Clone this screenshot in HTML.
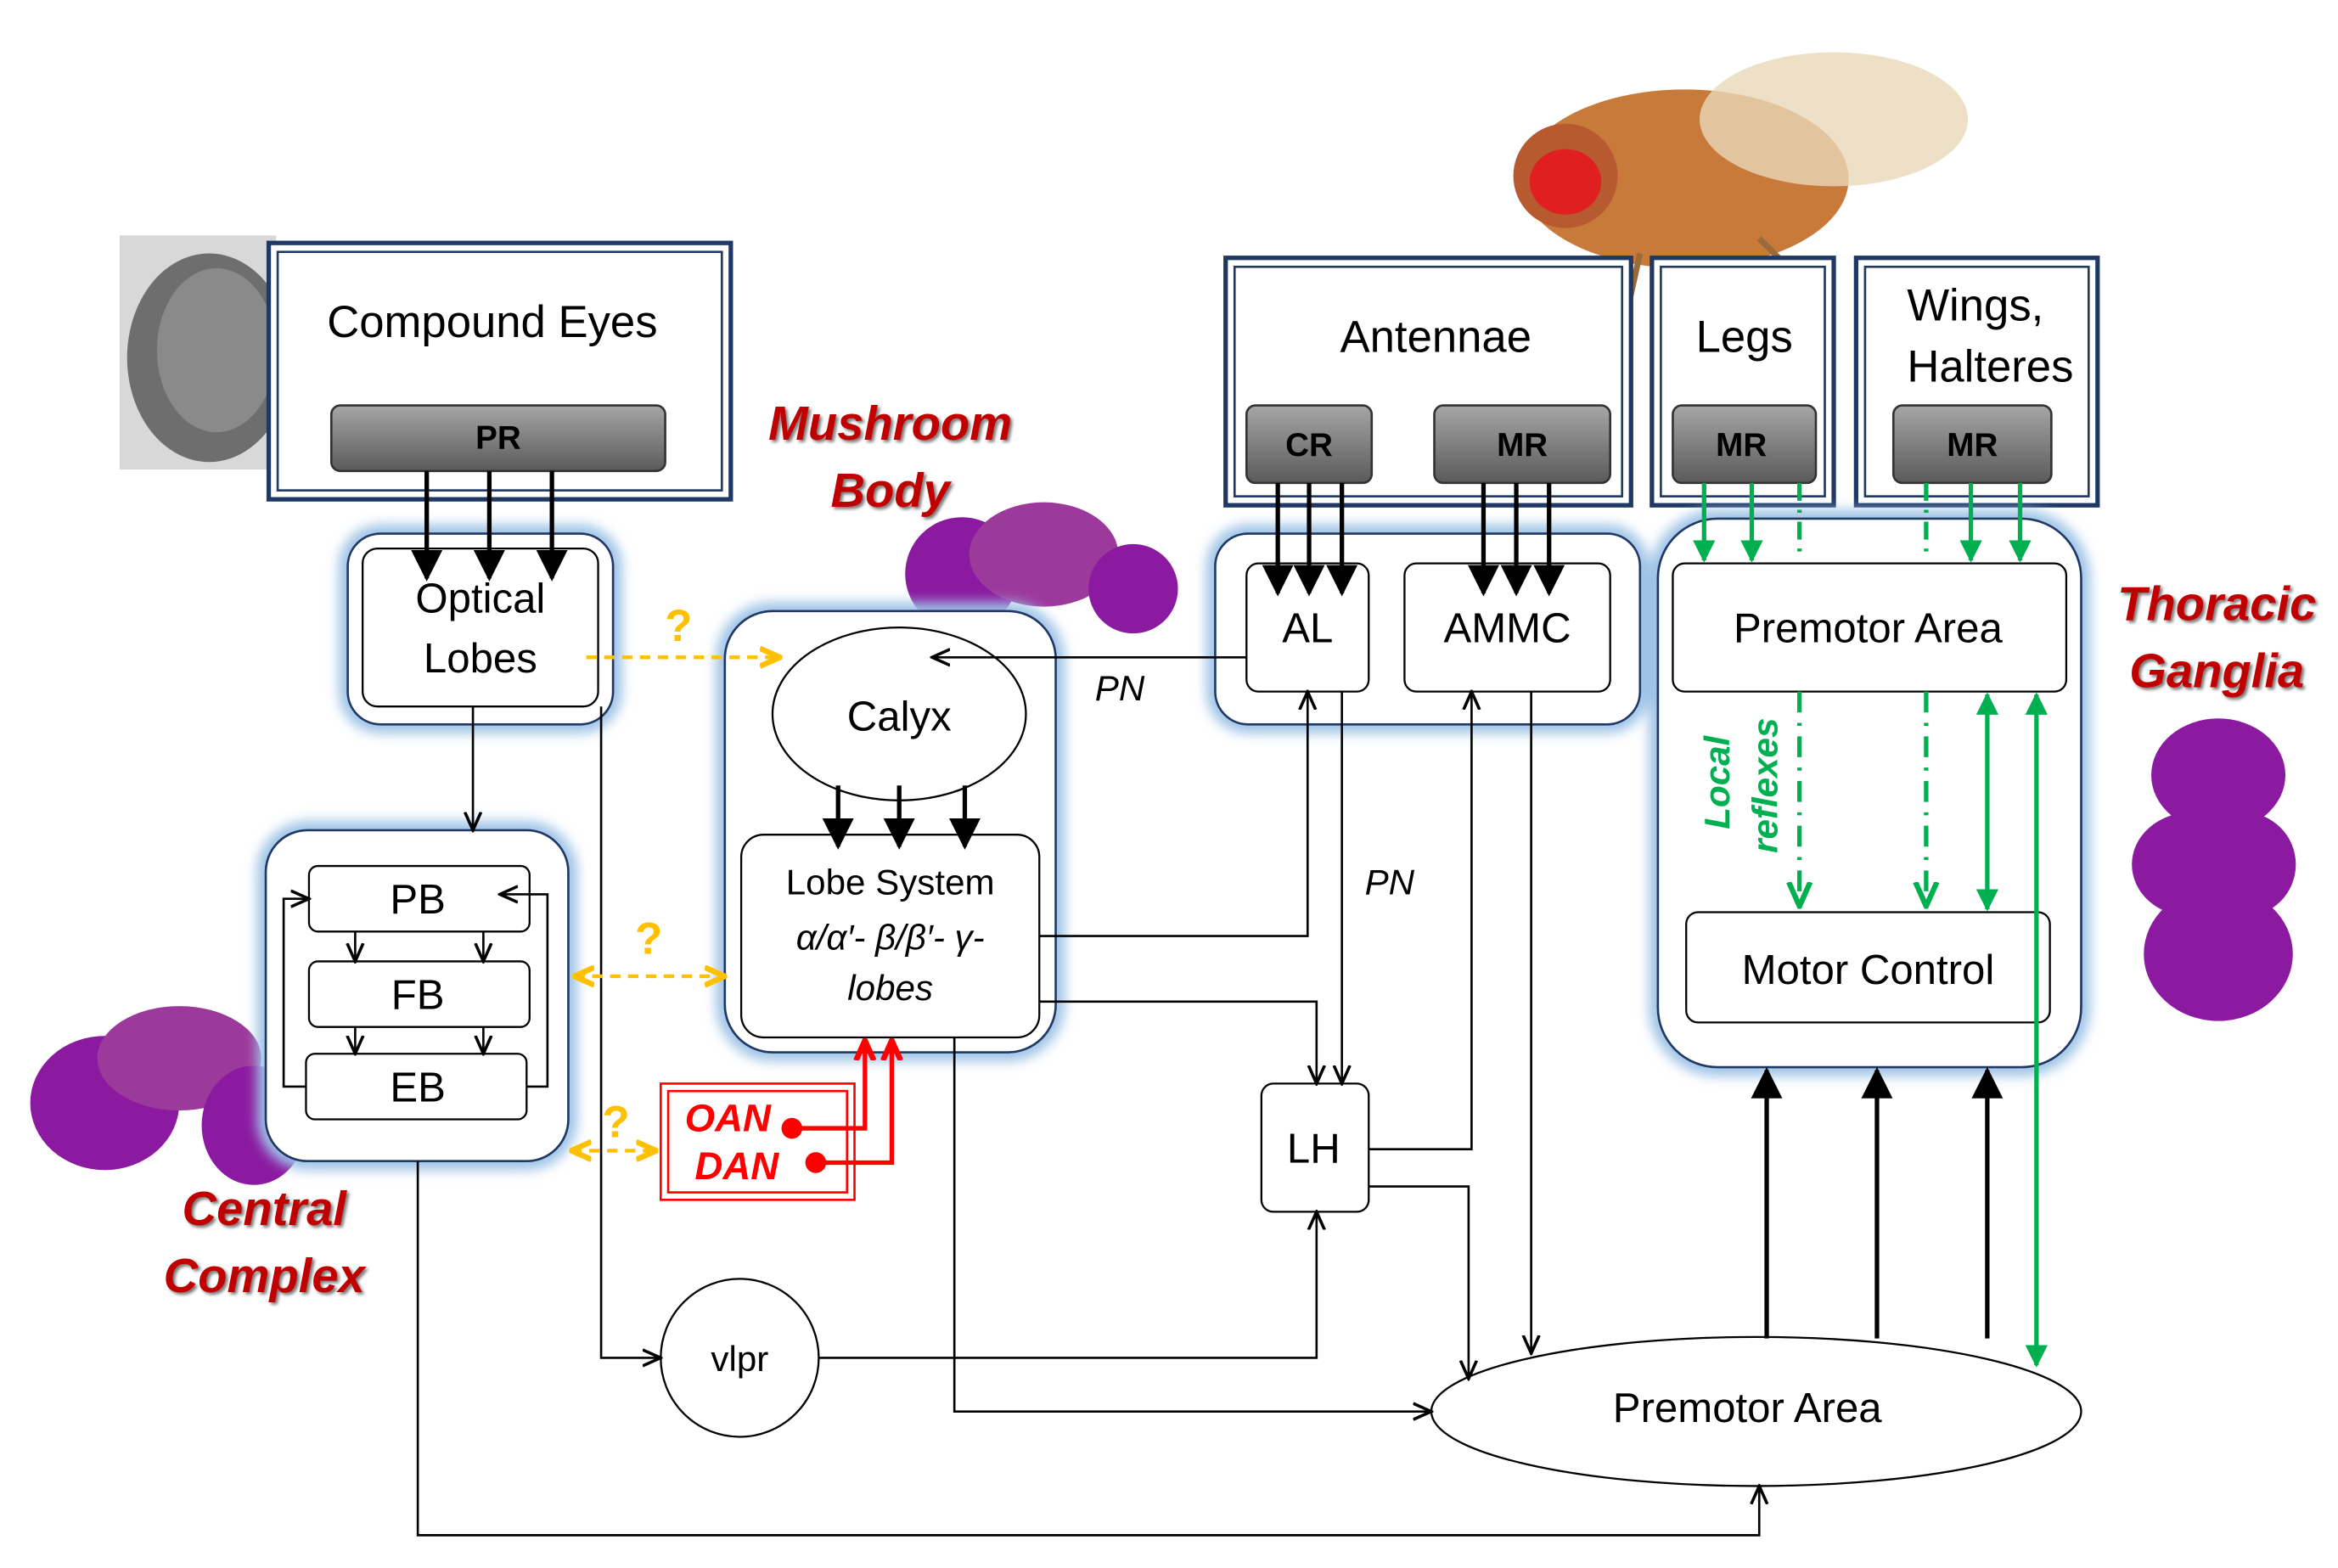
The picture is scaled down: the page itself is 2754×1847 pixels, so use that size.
<!DOCTYPE html>
<html><head><meta charset="utf-8">
<style>html,body{margin:0;padding:0;background:#fff}svg{display:block}</style>
</head><body>
<svg width="2754" height="1847" viewBox="0 0 1568 1052" xmlns="http://www.w3.org/2000/svg" font-family="Liberation Sans, sans-serif">
<defs>
<linearGradient id="gb" x1="0" y1="0" x2="0" y2="1"><stop offset="0" stop-color="#a6a6a6"/><stop offset="1" stop-color="#5a5a5a"/></linearGradient>
<filter id="bl" x="-20%" y="-20%" width="140%" height="140%"><feGaussianBlur stdDeviation="4"/></filter>
<filter id="sh"><feDropShadow dx="1.5" dy="1.5" stdDeviation="1" flood-color="#777"/></filter>
<marker id="a" viewBox="0 0 10 10" refX="9" refY="5" markerWidth="7" markerHeight="7" orient="auto-start-reverse"><path d="M0,0 L10,5 L0,10 z" fill="#000"/></marker>
<marker id="ao" viewBox="0 0 10 10" refX="9" refY="5" markerWidth="9" markerHeight="9" orient="auto-start-reverse"><path d="M0,1 L9,5 L0,9" fill="none" stroke="#000" stroke-width="1.5"/></marker>
<marker id="ag" viewBox="0 0 10 10" refX="9" refY="5" markerWidth="5" markerHeight="5" orient="auto-start-reverse"><path d="M0,0 L10,5 L0,10 z" fill="#00b050"/></marker>
<marker id="agv" viewBox="0 0 10 10" refX="9" refY="5" markerWidth="6" markerHeight="6" orient="auto-start-reverse"><path d="M0,1 L9,5 L0,9" fill="none" stroke="#00b050" stroke-width="2"/></marker>
<marker id="ay" viewBox="0 0 10 10" refX="9" refY="5" markerWidth="6" markerHeight="6" orient="auto-start-reverse"><path d="M0,1 L9,5 L0,9" fill="none" stroke="#ffc000" stroke-width="2.5"/></marker>
<marker id="ar" viewBox="0 0 10 10" refX="9" refY="5" markerWidth="5" markerHeight="5" orient="auto-start-reverse"><path d="M0,1 L9,5 L0,9" fill="none" stroke="#f00" stroke-width="2.5"/></marker>
</defs>

<!-- images approximations -->
<g>
<rect x="80" y="158" width="105" height="157" fill="#d8d8d8"/>
<ellipse cx="140" cy="240" rx="55" ry="70" fill="#6e6e6e"/>
<ellipse cx="145" cy="235" rx="40" ry="55" fill="#8a8a8a"/>
</g>
<g>
<ellipse cx="1130" cy="120" rx="110" ry="60" fill="#c87a3a"/>
<ellipse cx="1230" cy="80" rx="90" ry="45" fill="#e8d8b8" opacity="0.8"/>
<ellipse cx="1050" cy="118" rx="35" ry="35" fill="#b85a30"/>
<ellipse cx="1050" cy="122" rx="24" ry="22" fill="#e02020"/>
<path d="M1100,170 L1080,260 M1140,175 L1175,250 M1180,160 L1230,210" stroke="#9a6a3a" stroke-width="4"/>
</g>
<g fill="#8b1aa0">
<ellipse cx="645" cy="385" rx="38" ry="38"/><ellipse cx="700" cy="372" rx="50" ry="35" fill="#9c3a9c"/><ellipse cx="760" cy="395" rx="30" ry="30"/>
<ellipse cx="70" cy="740" rx="50" ry="45"/><ellipse cx="120" cy="710" rx="55" ry="35" fill="#9c3a9c"/><ellipse cx="170" cy="755" rx="35" ry="40"/>
<ellipse cx="1488" cy="520" rx="45" ry="38"/><ellipse cx="1470" cy="580" rx="40" ry="35"/><ellipse cx="1505" cy="580" rx="35" ry="35"/><ellipse cx="1488" cy="640" rx="50" ry="45"/>
</g>

<!-- double-border boxes -->
<g fill="#fff" stroke="#1f3864">
<rect x="180" y="163" width="310" height="172" stroke-width="3"/><rect x="186" y="169" width="298" height="160" stroke-width="1.5"/>
<rect x="822" y="173" width="272" height="166" stroke-width="3"/><rect x="828" y="179" width="260" height="154" stroke-width="1.5"/>
<rect x="1108" y="173" width="122" height="166" stroke-width="3"/><rect x="1114" y="179" width="110" height="154" stroke-width="1.5"/>
<rect x="1245" y="173" width="162" height="166" stroke-width="3"/><rect x="1251" y="179" width="150" height="154" stroke-width="1.5"/>
</g>
<g font-size="30" fill="#000" text-anchor="middle">
<text x="330" y="226">Compound Eyes</text>
<text x="963" y="236">Antennae</text>
<text x="1170" y="236">Legs</text>
<text x="1325" y="215">Wings,</text>
<text x="1335" y="256">Halteres</text>
</g>
<g fill="url(#gb)" stroke="#333" stroke-width="1.5">
<rect x="222" y="272" width="224" height="44" rx="6"/>
<rect x="836" y="272" width="84" height="52" rx="6"/>
<rect x="962" y="272" width="118" height="52" rx="6"/>
<rect x="1122" y="272" width="96" height="52" rx="6"/>
<rect x="1270" y="272" width="106" height="52" rx="6"/>
</g>
<g font-size="22" font-weight="bold" text-anchor="middle" fill="#000">
<text x="334" y="301">PR</text><text x="878" y="306">CR</text><text x="1021" y="306">MR</text><text x="1168" y="306">MR</text><text x="1323" y="306">MR</text>
</g>

<!-- glow boxes -->
<g fill="none" stroke="#9dc3e6" stroke-width="12" filter="url(#bl)">
<rect x="233" y="358" width="178" height="128" rx="22"/>
<rect x="486" y="410" width="222" height="296" rx="32"/>
<rect x="815" y="358" width="285" height="128" rx="22"/>
<rect x="1112" y="348" width="284" height="368" rx="40"/>
<rect x="178" y="557" width="203" height="222" rx="28"/>
</g>
<g fill="#fff" stroke="#1f3864" stroke-width="1.5">
<rect x="233" y="358" width="178" height="128" rx="22"/>
<rect x="486" y="410" width="222" height="296" rx="32"/>
<rect x="815" y="358" width="285" height="128" rx="22"/>
<rect x="1112" y="348" width="284" height="368" rx="40"/>
<rect x="178" y="557" width="203" height="222" rx="28"/>
</g>
<g fill="#fff" stroke="#000" stroke-width="1.3">
<rect x="243" y="368" width="158" height="106" rx="10"/>
<ellipse cx="603" cy="479" rx="85" ry="58"/>
<rect x="497" y="560" width="200" height="136" rx="15"/>
<rect x="836" y="378" width="82" height="86" rx="8"/>
<rect x="942" y="378" width="138" height="86" rx="8"/>
<rect x="1122" y="378" width="264" height="86" rx="8"/>
<rect x="1131" y="612" width="244" height="74" rx="8"/>
<rect x="207" y="581" width="148" height="44" rx="6"/>
<rect x="207" y="645" width="148" height="44" rx="6"/>
<rect x="205" y="707" width="148" height="44" rx="6"/>
<rect x="846" y="727" width="72" height="86" rx="8"/>
<circle cx="496" cy="911" r="53"/>
<ellipse cx="1178" cy="947" rx="218" ry="50"/>
</g>
<g font-size="28" text-anchor="middle" fill="#000">
<text x="322" y="411">Optical</text><text x="322" y="451">Lobes</text>
<text x="603" y="490">Calyx</text>
<text x="877" y="431">AL</text><text x="1011" y="431">AMMC</text>
<text x="1253" y="431">Premotor Area</text>
<text x="1253" y="660">Motor Control</text>
<text x="280" y="613">PB</text><text x="280" y="677">FB</text><text x="280" y="739">EB</text>
<text x="881" y="780">LH</text>
<text x="1172" y="954">Premotor Area</text>
</g>
<g font-size="24" text-anchor="middle" fill="#000">
<text x="597" y="600">Lobe System</text>
<text x="597" y="637" font-style="italic">α/α′- β/β′- γ-</text>
<text x="597" y="671" font-style="italic">lobes</text>
<text x="496" y="920">vlpr</text>
<text x="751" y="470" font-style="italic">PN</text>
<text x="932" y="600" font-style="italic">PN</text>
</g>

<!-- red labels -->
<g font-size="32" font-weight="bold" font-style="italic" fill="#c00000" text-anchor="middle" filter="url(#sh)">
<text x="597" y="295">Mushroom</text><text x="597" y="340">Body</text>
<text x="1487" y="416">Thoracic</text><text x="1487" y="461">Ganglia</text>
<text x="177" y="822">Central</text><text x="177" y="867">Complex</text>
</g>

<!-- black connectors -->
<g stroke="#000" stroke-width="3" fill="none" marker-end="url(#a)">
<path d="M286,316V388"/><path d="M328,316V388"/><path d="M370,316V388"/>
<path d="M857,324V398"/><path d="M878,324V398"/><path d="M900,324V398"/>
<path d="M995,324V398"/><path d="M1017,324V398"/><path d="M1039,324V398"/>
<path d="M562,527V568"/><path d="M603,527V568"/><path d="M647,527V568"/>
<path d="M1185,898V718"/><path d="M1259,898V718"/><path d="M1333,898V718"/>
</g>
<g stroke="#000" stroke-width="1.5" fill="none" marker-end="url(#ao)">
<path d="M238,625V645"/><path d="M324,625V645"/><path d="M238,689V707"/><path d="M324,689V707"/>
<path d="M205,729H190V603H207"/><path d="M353,729H367V600H335"/>
<path d="M317,474V557"/>
<path d="M836,441H625"/>
<path d="M697,628H877V464"/>
<path d="M900,464V727"/>
<path d="M697,672H883V727"/>
<path d="M918,771H987V464"/>
<path d="M1027,464V908"/>
<path d="M918,796H985V925"/>
<path d="M403,474V911H443"/>
<path d="M549,911H883V813"/>
<path d="M640,696V947H960"/>
<path d="M280,779V1030H1180V997"/>
</g>

<!-- yellow -->
<g stroke="#ffc000" stroke-width="2.5" stroke-dasharray="7,5" fill="none">
<path d="M393,441H523" marker-end="url(#ay)"/>
<path d="M385,655H486" marker-end="url(#ay)" marker-start="url(#ay)"/>
<path d="M383,772H440" marker-end="url(#ay)" marker-start="url(#ay)"/>
</g>
<g fill="#ffc000" font-size="30" font-weight="bold" text-anchor="middle">
<text x="455" y="430">?</text><text x="435" y="640">?</text><text x="413" y="763">?</text>
</g>

<!-- OAN DAN -->
<rect x="443" y="727" width="130" height="78" fill="none" stroke="#f00" stroke-width="1.5"/>
<rect x="448" y="732" width="120" height="68" fill="none" stroke="#f00" stroke-width="1.5"/>
<g font-size="26" font-weight="bold" font-style="italic" fill="#f00" text-anchor="middle">
<text x="488" y="759">OAN</text><text x="494" y="791">DAN</text>
</g>
<circle cx="531" cy="757" r="7" fill="#f00"/><circle cx="547" cy="780" r="7" fill="#f00"/>
<g stroke="#f00" stroke-width="3" fill="none" marker-end="url(#ar)">
<path d="M531,757H580V698"/><path d="M547,780H598V698"/>
</g>

<!-- green -->
<g stroke="#00b050" stroke-width="3" fill="none">
<path d="M1143,324V376" marker-end="url(#ag)"/><path d="M1175,324V376" marker-end="url(#ag)"/>
<path d="M1322,324V376" marker-end="url(#ag)"/><path d="M1355,324V376" marker-end="url(#ag)"/>
<path d="M1207,324V376" stroke-dasharray="12,6,2,6"/><path d="M1292,324V376" stroke-dasharray="12,6,2,6"/>
<path d="M1207,464V608" stroke-dasharray="14,7,2,7" marker-end="url(#agv)"/>
<path d="M1292,464V608" stroke-dasharray="14,7,2,7" marker-end="url(#agv)"/>
<path d="M1333,466V610" marker-end="url(#ag)" marker-start="url(#ag)"/>
<path d="M1366,466V916" marker-end="url(#ag)" marker-start="url(#ag)"/>
</g>
<g fill="#00b050" font-size="24" font-weight="bold" font-style="italic" text-anchor="middle">
<text transform="translate(1160,525) rotate(-90)">Local</text>
<text transform="translate(1192,527) rotate(-90)">reflexes</text>
</g>
</svg>
</body></html>
